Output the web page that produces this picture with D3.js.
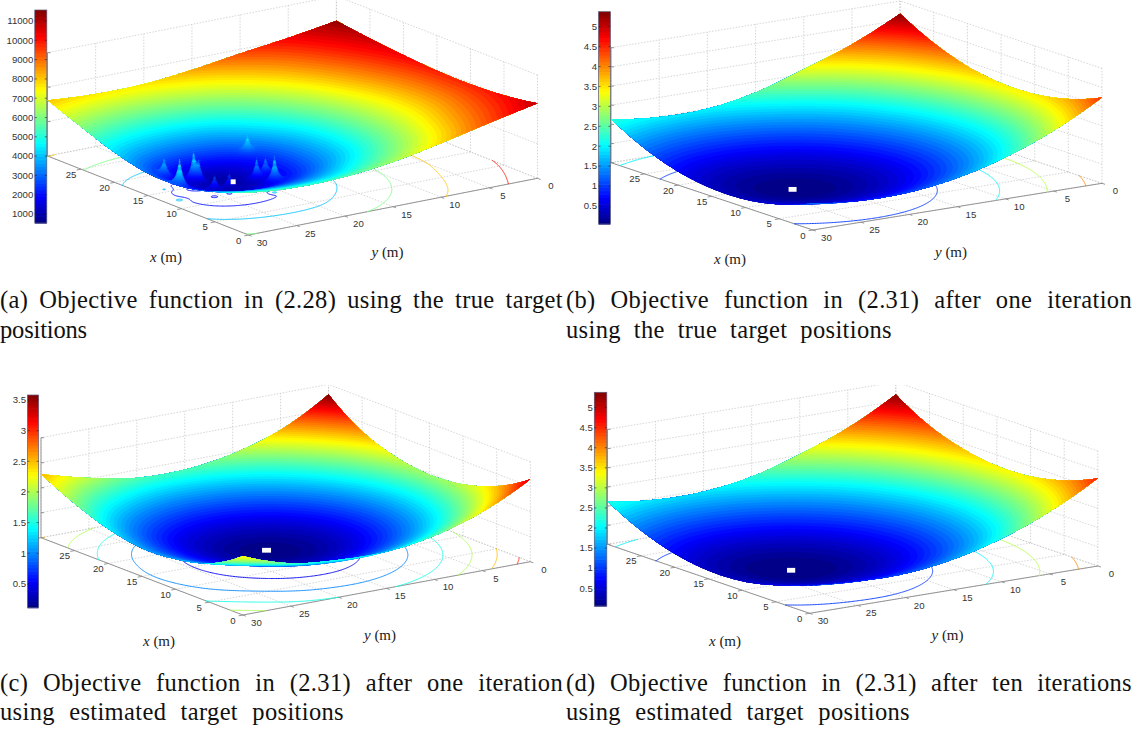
<!DOCTYPE html>
<html><head><meta charset="utf-8">
<script src="https://cdn.jsdelivr.net/npm/d3@7"></script>
<style>html,body{margin:0;padding:0;background:#fff}svg{display:block}</style></head>
<body><svg id="c" width="1137" height="730"></svg>
<script>
// ---------- values ----------
const gridX = [0,5,10,15,20,25,30];
const gridY = [0,5,10,15,20,25,30];
const xTickLabels = [0,5,10,15,20,25];
const yTickLabels = [0,5,10,15,20,25,30];

// surface heights: one row per gridY value, one column per gridX value
const surfaceA = [
 [10900,10150,9850,9900,10250,10750,11400],
 [9400,8550,7950,7950,8550,9400,10300],
 [7850,6600,5900,5900,6600,7850,9400],
 [6500,4900,3750,3750,4900,6500,8400],
 [5700,3550,1800,1800,3550,5700,7700],
 [5550,3400,1200,1200,3400,5550,7650],
 [6150,4350,3200,3200,4350,6150,8100]];
const surfaceB = [
 [4.48,3.82,3.49,3.47,3.77,4.40,5.34],
 [3.16,2.51,2.17,2.16,2.46,3.09,4.15],
 [2.17,1.52,1.18,1.17,1.47,2.09,3.25],
 [1.50,.85,.51,.49,.80,1.42,2.45],
 [1.15,.49,.16,.14,.45,1.07,2.01],
 [1.12,.46,.13,.11,.41,1.04,1.98],
 [1.40,.75,.41,.40,.70,1.33,2.27]];
const surfaceC = [
 [3.30,2.51,2.07,1.94,2.13,2.64,3.60],
 [2.35,1.60,1.16,1.03,1.22,1.72,2.54],
 [1.75,1.00,.56,.43,.62,1.12,1.94],
 [1.47,.71,.27,.15,.34,.84,1.66],
 [1.50,.75,.31,.18,.37,.87,1.69],
 [1.72,1.09,.65,.53,.71,1.22,2.04],
 [2.36,1.55,1.20,1.12,1.38,1.88,2.55]];
const surfaceD = [
 [4.58,3.87,3.48,3.43,3.71,4.32,5.35],
 [3.25,2.54,2.16,2.10,2.38,2.99,4.02],
 [2.26,1.54,1.16,1.11,1.38,1.99,3.05],
 [1.59,.88,.49,.44,.72,1.33,2.30],
 [1.25,.54,.16,.10,.38,.99,1.93],
 [1.25,.53,.15,.10,.37,.98,1.92],
 [1.45,.86,.47,.42,.70,1.31,2.24]];

// target peaks of panel (a)
const spikeX = [15.75,12.3,14.4,14,11.4,11.5,16.7,11.6,12,9.5];
const spikeY = [27.8,28.6,25.7,25.4,25.6,24,18.5,21.1,19.9,20.7];
const spikeZ = [4950,6800,5700,3950,3500,3300,5400,4800,4250,6000];

const colorLimits = [[534,11570],[.048,5.376],[.113,3.58],[.058,5.38]];
const zTopLimits = [15000,6,4,6];
const zStep = [5000,1,1,1];
const floorLevels = [[2000,4000,6000,8000,10000],[1,2,3,4,5],[.5,1,1.5,2,2.5,3,3.5],[1,2,3,4,5]];
const colorbarTicks = [
 [1000,2000,3000,4000,5000,6000,7000,8000,9000,10000,11000],
 [.5,1,1.5,2,2.5,3,3.5,4,4.5,5],
 [.5,1,1.5,2,2.5,3,3.5],
 [.5,1,1.5,2,2.5,3,3.5,4,4.5,5]];
const minimumX = [12.5,12.9,15,13.3];
const minimumY = [22.9,23.1,17,22.6];
const minimumZ = [1000,.05,.12,.04];
const captions = [
 ["(a) Objective function in (2.28) using the true target","positions"],
 ["(b) Objective function in (2.31) after one iteration","using the true target positions"],
 ["(c) Objective function in (2.31) after one iteration","using estimated target positions"],
 ["(d) Objective function in (2.31) after ten iterations","using estimated target positions"]];

// ---------- layout (page pixels) ----------
const layout = [
 {F:[248.6,235],L:[47.5,156],R:[537.5,178.3],wall:103.3,bar:[34.8,10,12,213],mark:5,xl:[166,262],yl:[387.5,257],clipTop:0,cap:[0,308,563,87,338]},
 {F:[812.9,230],L:[611,162.7],R:[1102,183.3],wall:115,bar:[598.6,11.7,11.8,212.3],mark:8,xl:[730,264],yl:[951,257],clipTop:0,cap:[566,308,566,326,338]},
 {F:[242.9,615],L:[41,537.7],R:[530.4,561.7],wall:100,bar:[27.5,395,11.1,212.7],mark:9,xl:[159,646],yl:[380,640],clipTop:385,cap:[0,691,563,344,720]},
 {F:[809.6,613.3],L:[607.5,544.3],R:[1097.9,566],wall:115,bar:[594.3,392.3,12.5,213.7],mark:8.2,xl:[725,646],yl:[947.5,640],clipTop:385,cap:[566,691,566,344,720]}
];
const surfaces = [surfaceA,surfaceB,surfaceC,surfaceD];

// ---------- helpers ----------
const svg = d3.select('#c');
const jetStops = [0,.125,.375,.625,.875,1];
const jetColors = ['#000080','#0000ff','#00ffff','#ffff00','#ff0000','#800000'];

function ghost(arr){ // extends a row by one point at each end, keeping curvature
  const n=arr.length;
  return [3*arr[0]-3*arr[1]+arr[2],...arr,3*arr[n-1]-3*arr[n-2]+arr[n-3]];
}
function cr(p0,p1,p2,p3,t){
  return .5*(2*p1+(p2-p0)*t+(2*p0-5*p1+4*p2-p3)*t*t+(3*p1-p0-3*p2+p3)*t*t*t);
}
function buildField(table,withSpikes,N){
  const rows = table.map(ghost);
  const cols = rows[0].map((_,c)=>ghost(rows.map(r=>r[c])));
  const G = cols[0].map((_,r)=>cols.map(c=>c[r])); // G[row][col]
  const u = d3.scaleLinear().domain([0,N-1]).range([0,gridX.length-1]);
  const sample=(ux,uy)=>{
    const i=Math.min(Math.floor(ux),gridX.length-2), j=Math.min(Math.floor(uy),gridY.length-2);
    const t=ux-i, s=uy-j, rr=[];
    for(let k=0;k<4;k++){const R=G[j+k];rr.push(cr(R[i],R[i+1],R[i+2],R[i+3],t));}
    return cr(rr[0],rr[1],rr[2],rr[3],s);
  };
  const values=new Float64Array(N*N);
  const toM=d3.scaleLinear().domain([0,gridX.length-1]).range([0,30]);
  const toU=toM.invert;
  const lift = withSpikes? spikeX.map((sx,k)=>spikeZ[k]-sample(toU(sx),toU(spikeY[k]))):[];
  for(let j=0;j<N;j++)for(let i=0;i<N;i++){
    const ux=u(i),uy=u(j);
    let v=sample(ux,uy);
    if(withSpikes){
      const mx=toM(ux),my=toM(uy);
      for(let k=0;k<spikeX.length;k++){
        const r=Math.hypot(mx-spikeX[k],my-spikeY[k]);
        if(r<4) v+=lift[k]*Math.exp(-r/.28);
      }
    }
    values[j*N+i]=v;
  }
  return values;
}

function drawPanel(idx){
  const N=idx===0?361:241;
  const lay=layout[idx], table=surfaces[idx], zTop=zTopLimits[idx], clim=colorLimits[idx];
  const values=buildField(table,idx===0,N);
  const color=d3.scaleLinear().domain(jetStops.map(d=>clim[0]+d*(clim[1]-clim[0]))).range(jetColors).clamp(true);
  const xAlongX=d3.scaleLinear().domain([0,30]).range([0,lay.L[0]-lay.F[0]]);
  const yAlongX=d3.scaleLinear().domain([0,30]).range([0,lay.L[1]-lay.F[1]]);
  const xAlongY=d3.scaleLinear().domain([30,0]).range([0,lay.R[0]-lay.F[0]]);
  const yAlongY=d3.scaleLinear().domain([30,0]).range([0,lay.R[1]-lay.F[1]]);
  const zPix=d3.scaleLinear().domain([0,zTop]).range([0,lay.wall]);
  const P=(x,y,z)=>[lay.F[0]+xAlongX(x)+xAlongY(y), lay.F[1]+yAlongX(x)+yAlongY(y)-zPix(z)];

  const id='clip'+idx;
  svg.append('clipPath').attr('id',id).append('rect').attr('x',0).attr('y',lay.clipTop).attr('width',1137).attr('height',730);
  const g=svg.append('g').attr('clip-path',`url(#${id})`);
  const line=(a,b,cls)=>{
    g.append('line').attr('x1',a[0]).attr('y1',a[1]).attr('x2',b[0]).attr('y2',b[1])
     .attr('stroke',cls==='axis'?'#8a8a8a':'#c4c4c4').attr('stroke-width',cls==='axis'?.9:.7)
     .attr('stroke-dasharray',cls==='axis'?null:'1.5 1.5');
  };
  const zVals=d3.range(0,zTop+1e-9,zStep[idx]);
  // walls and floor grid
  gridX.forEach(x=>{line(P(x,0,0),P(x,30,0));line(P(x,0,0),P(x,0,zTop));});
  gridY.forEach(y=>{line(P(0,y,0),P(30,y,0));line(P(30,y,0),P(30,y,zTop));});
  zVals.forEach(z=>{line(P(30,0,z),P(30,30,z));line(P(0,0,z),P(30,0,z));});
  // axes
  line(P(0,30,0),P(30,30,0),'axis');
  line(P(0,0,0),P(0,30,0),'axis');
  line(P(30,30,0),P(30,30,zTop),'axis');
  const yStep=[xAlongY(29)-xAlongY(30),yAlongY(29)-yAlongY(30)], xStep=[xAlongX(1),yAlongX(1)];
  gridX.forEach(x=>{const p=P(x,30,0);line(p,[p[0]-yStep[0]*.45,p[1]-yStep[1]*.45],'axis');});
  gridY.forEach(y=>{const p=P(0,y,0);line(p,[p[0]-xStep[0]*.45,p[1]-xStep[1]*.45],'axis');});
  zVals.forEach(z=>{const p=P(30,30,z);line(p,[p[0]+3,p[1]],'axis');});

  // coordinates of the contour output -> metres
  const toMetre=d3.scaleLinear().domain([.5,N-.5]).range([0,30]).clamp(true);
  const heightAt=(mx,my)=>{
    const fx=mx/30*(N-1), fy=my/30*(N-1);
    const i=Math.min(Math.floor(fx),N-2), j=Math.min(Math.floor(fy),N-2), t=fx-i, s=fy-j;
    return (values[j*N+i]*(1-t)+values[j*N+i+1]*t)*(1-s)+(values[(j+1)*N+i]*(1-t)+values[(j+1)*N+i+1]*t)*s;
  };
  const onSurface=d3.geoTransform({point(a,b){
    const mx=toMetre(a),my=toMetre(b),p=P(mx,my,heightAt(mx,my));this.stream.point(p[0],p[1]);}});
  const onFloor=d3.geoTransform({point(a,b){
    const p=P(toMetre(a),toMetre(b),0);this.stream.point(p[0],p[1]);}});
  const surfPath=d3.geoPath(onSurface), floorPath=d3.geoPath(onFloor);

  const maker=d3.contours().size([N,N]);
  // contour lines on the floor (without the parts running along the box edge)
  const onEdge=(p,q)=>(p[0]===q[0]&&(p[0]<=0||p[0]>=N))||(p[1]===q[1]&&(p[1]<=0||p[1]>=N));
  floorLevels[idx].forEach(level=>{
    const c=maker.contour(values,level), lines=[];
    c.coordinates.forEach(poly=>poly.forEach(ring=>{
      let cur=[];
      for(let k=0;k<ring.length-1;k++){
        if(onEdge(ring[k],ring[k+1])){ if(cur.length>1)lines.push(cur); cur=[]; }
        else { if(!cur.length)cur.push(ring[k]); cur.push(ring[k+1]); }
      }
      if(cur.length>1)lines.push(cur);
    }));
    g.append('path').attr('d',floorPath({type:'MultiLineString',coordinates:lines}))
      .attr('fill','none').attr('stroke',color(level)).attr('stroke-width',.9);
  });

  // filled bands, lowest first: seen from above the higher point is always the nearer one
  const levels=d3.range(64).map(i=>clim[0]+i*(clim[1]-clim[0])/64);
  const minV=d3.min(values);
  levels.forEach((t,i)=>{
    const c=maker.contour(values,i===0?minV-1:t);
    if(!c.coordinates.length)return;
    g.append('path').attr('d',surfPath(c)).attr('fill',color(t+(clim[1]-clim[0])/128)).attr('stroke','none');
  });

  // white square at the minimum
  const m=P(minimumX[idx],minimumY[idx],minimumZ[idx]);
  g.append('rect').attr('x',m[0]-lay.mark/2).attr('y',m[1]-2.4)
    .attr('width',lay.mark).attr('height',4.8).attr('fill','#fff');

  // tick labels
  const tickFont={fam:'Liberation Sans, Arial, sans-serif',size:9.6,col:'#333'};
  xTickLabels.forEach(x=>{const p=P(x,30,0);
    g.append('text').attr('x',p[0]-10).attr('y',p[1]+8.5).attr('text-anchor','middle')
     .attr('font-family',tickFont.fam).attr('font-size',tickFont.size).attr('fill',tickFont.col).text(x);});
  yTickLabels.forEach(y=>{const p=P(0,y,0);
    g.append('text').attr('x',p[0]+13.5).attr('y',p[1]+11).attr('text-anchor','middle')
     .attr('font-family',tickFont.fam).attr('font-size',tickFont.size).attr('fill',tickFont.col).text(y);});

  // colorbar
  const b=lay.bar;
  const barY=d3.scaleLinear().domain(clim).range([b[1]+b[3],b[1]]);
  const bar=svg.append('g');
  levels.forEach((t,i)=>{
    const top=barY(t+(clim[1]-clim[0])/64), bot=barY(t);
    bar.append('rect').attr('x',b[0]).attr('y',top).attr('width',b[2]).attr('height',bot-top+.6)
      .attr('fill',color(t+(clim[1]-clim[0])/128));
  });
  bar.append('rect').attr('x',b[0]).attr('y',b[1]).attr('width',b[2]).attr('height',b[3])
    .attr('fill','none').attr('stroke','#5a5a78').attr('stroke-width',.7);
  colorbarTicks[idx].forEach(v=>{
    const y=barY(v);
    bar.append('line').attr('x1',b[0]).attr('x2',b[0]+2).attr('y1',y).attr('y2',y).attr('stroke','#222').attr('stroke-width',.6);
    bar.append('line').attr('x1',b[0]+b[2]-2).attr('x2',b[0]+b[2]).attr('y1',y).attr('y2',y).attr('stroke','#222').attr('stroke-width',.6);
    bar.append('text').attr('x',b[0]-1.5).attr('y',y+3.3).attr('text-anchor','end')
      .attr('font-family',tickFont.fam).attr('font-size',tickFont.size).attr('fill',tickFont.col).text(v);
  });

  // axis names
  const axisName=(pos,letter)=>{
    const t=svg.append('text').attr('x',pos[0]).attr('y',pos[1]).attr('text-anchor','middle')
      .attr('font-family','Liberation Serif, serif').attr('font-size',15).attr('fill','#222');
    t.append('tspan').attr('font-style','italic').text(letter);
    t.append('tspan').text(' (m)');
  };
  axisName(lay.xl,'x'); axisName(lay.yl,'y');

  // caption
  const cap=lay.cap;
  const capLine=(txt,x,y,w)=>{
    const t=svg.append('text').attr('x',x).attr('y',y).attr('font-family','Liberation Serif, serif')
      .attr('font-size',24.5).attr('letter-spacing','.35px').attr('fill','#111').text(txt);
    const natural=t.node().getComputedTextLength(), spaces=(txt.match(/ /g)||[]).length;
    if(spaces>0) t.attr('word-spacing',((w-natural)/spaces).toFixed(2));
    else t.attr('letter-spacing',((w-natural)/txt.length+.35).toFixed(2));
  };
  capLine(captions[idx][0],cap[0],cap[1],cap[2]);
  capLine(captions[idx][1],cap[0],cap[4],cap[3]);
}
[0,1,2,3].forEach(drawPanel);
</script></body></html>
